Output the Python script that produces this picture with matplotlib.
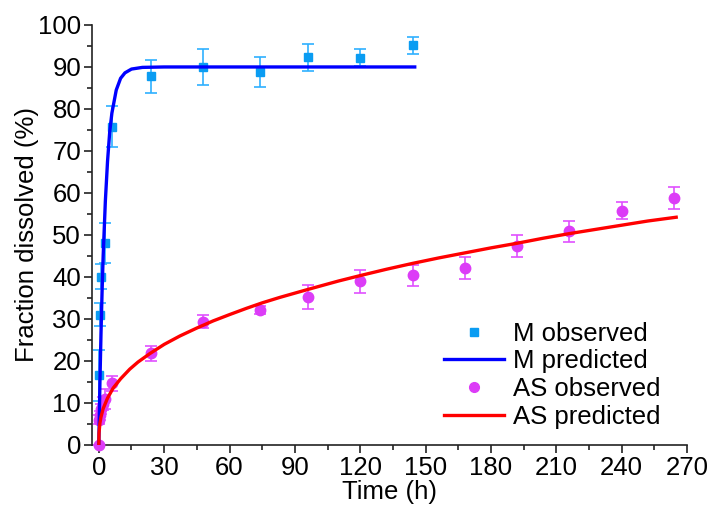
import matplotlib
matplotlib.use("Agg")
from matplotlib import pyplot as plt
from matplotlib.lines import Line2D
from matplotlib.ticker import MultipleLocator

plt.rcParams['font.family'] = ['Liberation Sans', 'DejaVu Sans']

# M observed (time h, % dissolved, error)
m_time = [0.25, 0.5, 1, 3, 6, 24, 48, 74, 96, 120, 144]
m_obs = [16.5, 31, 40, 48, 75.8, 87.8, 90.0, 88.8, 92.3, 92.2, 95.2]
m_err = [6, 2.7, 3, 4.8, 4.9, 3.9, 4.2, 3.5, 3.2, 2, 2]

# M predicted curve
m_pred_time = [0, 0.5, 1, 1.5, 2, 3, 4, 5, 6, 8, 10, 12, 15, 20, 30, 145]
m_pred = [0, 14.5, 26.5, 36.5, 45, 58, 67.5, 74.5, 79, 84.5, 87.3, 88.6, 89.5, 89.9, 90, 90]

# AS observed
as_time = [0, 0.25, 0.5, 1, 2, 3, 6, 24, 48, 74, 96, 120, 144, 168, 192, 216, 240, 264]
as_obs = [0, 6, 7, 8.5, 9.8, 10.8, 14.6, 21.8, 29.3, 32.1, 35.2, 38.9, 40.4, 42.1, 47.3, 50.8, 55.8, 58.7]
as_err = [0, 1, 1, 1.2, 1.5, 2.4, 1.7, 1.8, 1.5, 0.9, 2.75, 2.8, 2.5, 2.55, 2.6, 2.6, 2.05, 2.6]

# AS predicted curve
as_pred_time = [0, 0.1, 0.5, 1, 2, 4, 6.6, 10, 14.2, 18, 23.4, 30, 37.2, 45, 52.5, 60, 67.8, 75,
                83.1, 96, 110, 120, 132, 144, 156, 168, 180, 192, 204, 216, 228, 240, 252, 265]
as_pred = [0, 2.8, 5.1, 6.6, 8.6, 11.1, 13.5, 15.7, 18.0, 19.7, 21.7, 23.9, 25.9, 27.8, 29.5, 31.0,
           32.5, 33.8, 35.1, 37.0, 39.0, 40.3, 41.8, 43.2, 44.5, 45.7, 46.9, 48.0, 49.2, 50.3, 51.3,
           52.3, 53.3, 54.2]

labels = ['M observed', 'M predicted', 'AS observed', 'AS predicted']
m_color, m_err_color = '#0a9cf2', '#2fb0ff'
as_color, as_err_color = '#dc3cf7', '#e050ff'

fig = plt.figure(figsize=(7.12, 5.05), dpi=100)
ax = fig.add_axes([0.1296, 0.1194, 0.8354, 0.8311])

ax.errorbar(m_time, m_obs, yerr=m_err, fmt='s', color=m_color, ms=6.2,
            ecolor=m_err_color, elinewidth=1.2, capsize=4, capthick=1.2,
            zorder=3, clip_on=False)
ax.plot(m_pred_time, m_pred, color='#0000ff', lw=2.4, zorder=4)
ax.errorbar(as_time, as_obs, yerr=as_err, fmt='o', color=as_color, ms=7.5,
            ecolor=as_err_color, elinewidth=1.2, capsize=4, capthick=1.2,
            zorder=3, clip_on=False)
ax.plot(as_pred_time, as_pred, color='#ff0000', lw=2.4, zorder=4)

ax.set_xlim(-3, 270)
ax.set_ylim(0, 100)
ax.xaxis.set_major_locator(MultipleLocator(30))
ax.xaxis.set_minor_locator(MultipleLocator(15))
ax.yaxis.set_major_locator(MultipleLocator(10))
ax.yaxis.set_minor_locator(MultipleLocator(5))

for s in ('top', 'right'):
    ax.spines[s].set_visible(False)
for s in ('left', 'bottom'):
    ax.spines[s].set_linewidth(1.2)
    ax.spines[s].set_color('#222222')
ax.tick_params(which='major', direction='out', length=6, width=1.2, labelsize=18.5,
               color='#222222', pad=2)
ax.tick_params(which='minor', direction='out', length=3.5, width=1.2, color='#222222')

ax.set_xlabel('Time (h)', fontsize=18.5, labelpad=0)
ax.set_ylabel('Fraction dissolved (%)', fontsize=18.5, labelpad=-0.5)

handles = [
    Line2D([], [], ls='none', marker='s', ms=6, color=m_color),
    Line2D([], [], color='#0000ff', lw=2.4),
    Line2D([], [], ls='none', marker='o', ms=7, color=as_color),
    Line2D([], [], color='#ff0000', lw=2.4),
]
ax.legend(handles, labels, loc='lower left', bbox_to_anchor=(0.591, 0.037),
          frameon=False, fontsize=18.5, handlelength=2.33, handletextpad=0.35,
          labelspacing=0.15, borderpad=0, borderaxespad=0)

fig.savefig('out.png', dpi=100)
